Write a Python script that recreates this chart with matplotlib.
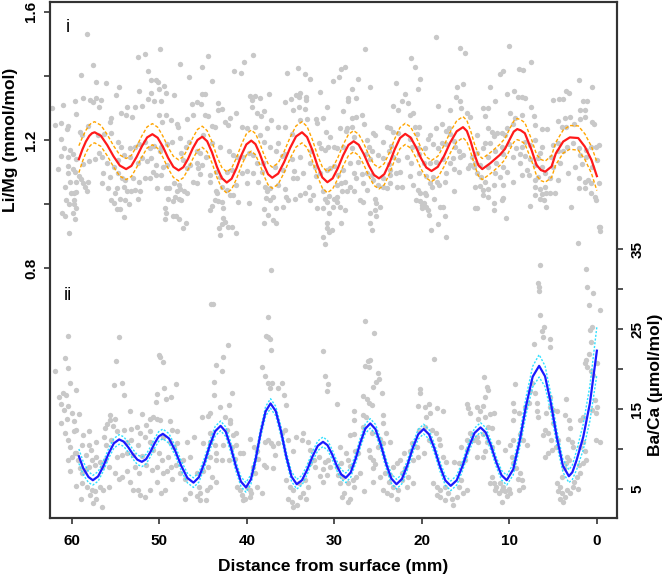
import matplotlib
matplotlib.use("Agg")
import matplotlib.pyplot as plt

plt.rcParams['font.family'] = ['Liberation Sans', 'DejaVu Sans']

# ---------------- data ----------------
# Li/Mg scatter (distance mm, Li/Mg mmol/mol)
li_a = [(58.3,1.531),(57.6,1.433),(59.0,1.402),(52.4,1.458),(51.6,1.469),(49.9,1.485),(47.7,1.437),(46.6,1.398),
(51.3,1.416),(51.0,1.387),(50.4,1.387),(50.2,1.382),(57.2,1.382),(56.1,1.377),(54.6,1.365),(52.3,1.353),(50.1,1.358),
(49.5,1.369),(49.2,1.346),(48.3,1.341),(51.0,1.346),(51.3,1.328),(50.6,1.323),(49.8,1.323),(55.0,1.339),(59.7,1.323),
(58.7,1.331),(57.9,1.325),(57.3,1.332),(56.7,1.325),(57.6,1.320),(61.0,1.308),(56.9,1.302),(62.3,1.299),(59.5,1.281),
(53.7,1.302),(52.8,1.304),(52.0,1.306),(46.3,1.312),(54.4,1.283),(53.8,1.278),(53.1,1.271),(61.9,1.247),(61.3,1.252),
(60.5,1.244),(60.6,1.234),(55.5,1.268),(55.7,1.257),(50.1,1.278),(49.2,1.278),(48.7,1.262),(49.7,1.255),(48.0,1.250),
(47.9,1.240),(46.9,1.265),(46.2,1.278),(59.1,1.226),(58.9,1.216),(58.2,1.245),(57.0,1.216),(56.3,1.219),(55.5,1.221),
(54.7,1.195),(54.4,1.179),(53.4,1.174),(52.8,1.179),(52.3,1.187),(51.7,1.195),(51.1,1.174),(50.6,1.182),(49.8,1.179),
(49.9,1.167),(49.1,1.187),(48.6,1.195),(47.7,1.205),(47.0,1.179),(46.6,1.195),(61.2,1.202),(60.9,1.174),(60.2,1.169),
(60.5,1.148),(61.2,1.150),(59.9,1.156),(59.5,1.140),(58.7,1.125),(58.1,1.135),(57.4,1.141),(56.9,1.158),(56.6,1.148),
(56.0,1.127),(55.2,1.115),(54.7,1.137),(54.0,1.153),(53.4,1.148),(52.5,1.129),(52.0,1.143),(51.4,1.135),(51.0,1.143),
(50.4,1.121),(49.6,1.117),(49.1,1.123),(47.5,1.158),(47.3,1.137),(46.9,1.111),(46.5,1.122),(61.6,1.109),(60.5,1.120),
(59.9,1.110),(60.4,1.096),(59.6,1.099),(59.2,1.088),(59.0,1.077),(59.5,1.070),(58.7,1.065),(58.2,1.068),(58.5,1.054),
(56.4,1.096),(56.6,1.067),(55.7,1.085),(54.7,1.096),(54.3,1.080),(53.9,1.075),(53.0,1.080),(52.3,1.070),(51.7,1.080),
(50.7,1.101),(50.4,1.091),(51.1,1.080),(49.8,1.091),(49.2,1.049),(48.9,1.049),(48.3,1.067),(47.8,1.059),(47.7,1.047),
(47.2,1.039),(46.8,1.035),(46.2,1.070),(60.8,1.054),(60.2,1.070),(59.8,1.033),(60.1,1.035),(59.5,1.036),(58.3,1.039),
(55.9,1.049),(54.9,1.049),(55.1,1.033),(54.1,1.054),(53.7,1.039),(53.2,1.039),(52.8,1.044),(52.2,1.042),(50.3,1.049),
(48.0,1.039),(48.2,1.023),(55.5,1.012),(55.2,1.004),(54.5,1.015),(53.9,1.012),(53.5,1.000),(52.5,1.015),(49.0,1.015),
(48.4,1.010),(47.8,1.017),(47.5,1.012),(60.7,1.012),(60.3,1.000),(59.8,1.012),(59.8,1.000),(59.5,0.986),(59.9,0.973),
(61.1,0.973),(60.8,0.962),(59.7,0.952),(54.9,0.983),(54.5,0.983),(54.1,0.960),(49.4,0.986),(49.2,0.971),(48.5,0.962),
(48.1,0.962),(47.8,0.952),(49.4,0.952),(47.3,0.924),(47.0,0.942),(60.3,0.908)]

li_b = [(44.4,1.462),(39.3,1.466),(40.3,1.443),(45.1,1.429),(41.5,1.417),(40.7,1.408),(44.0,1.385),(35.4,1.410),
(34.2,1.425),(33.4,1.406),(32.8,1.391),(30.2,1.384),(45.1,1.344),(44.8,1.344),(45.7,1.320),(45.2,1.312),(43.3,1.315),
(43.3,1.294),(42.9,1.296),(39.7,1.336),(39.1,1.337),(39.4,1.325),(38.5,1.332),(39.4,1.304),(38.9,1.283),(38.4,1.275),
(38.1,1.289),(37.5,1.344),(35.6,1.320),(35.0,1.328),(34.4,1.341),(33.9,1.346),(34.1,1.333),(33.2,1.335),(34.7,1.294),
(34.1,1.304),(33.4,1.296),(33.2,1.325),(31.7,1.349),(30.9,1.304),(44.8,1.278),(44.4,1.275),(41.9,1.268),(41.2,1.283),
(42.5,1.257),(42.2,1.247),(40.6,1.240),(40.0,1.236),(39.1,1.242),(37.7,1.236),(36.4,1.242),(35.6,1.240),(37.2,1.262),
(38.5,1.216),(38.1,1.195),(37.4,1.179),(36.7,1.164),(36.0,1.150),(34.9,1.219),(33.9,1.262),(33.1,1.265),(32.1,1.265),
(32.0,1.252),(31.3,1.268),(31.0,1.226),(30.5,1.210),(30.0,1.179),(30.7,1.179),(44.0,1.244),(43.7,1.242),(45.0,1.216),
(44.0,1.190),(43.1,1.179),(42.0,1.164),(41.6,1.153),(41.1,1.148),(40.4,1.148),(39.8,1.158),(39.3,1.153),(38.9,1.127),
(38.2,1.129),(36.4,1.190),(35.7,1.156),(34.9,1.140),(33.9,1.146),(32.7,1.164),(31.8,1.190),(31.5,1.174),(31.1,1.169),
(45.7,1.167),(45.4,1.158),(44.7,1.148),(45.7,1.127),(45.6,1.111),(45.1,1.122),(45.4,1.094),(45.7,1.067),(44.2,1.091),
(43.5,1.101),(43.1,1.085),(42.3,1.101),(41.7,1.106),(40.6,1.096),(40.0,1.104),(39.3,1.096),(38.3,1.101),(36.8,1.115),
(35.9,1.106),(34.6,1.104),(34.3,1.080),(33.6,1.096),(32.8,1.127),(32.2,1.117),(32.1,1.087),(31.7,1.096),(30.8,1.106),
(30.5,1.111),(30.0,1.119),(44.2,1.070),(43.5,1.039),(43.4,1.035),(42.9,1.052),(42.3,1.044),(41.9,1.028),(41.6,1.028),
(41.2,1.059),(40.0,1.067),(38.7,1.070),(37.9,1.052),(37.7,1.042),(37.4,1.049),(37.0,1.023),(36.5,1.059),(35.6,1.046),
(34.7,1.080),(35.5,1.023),(32.9,1.052),(32.4,1.028),(31.3,1.039),(31.1,1.015),(30.6,1.025),(30.1,1.015),(44.0,0.994),
(43.7,1.012),(43.3,1.010),(42.9,1.007),(42.7,0.986),(41.0,1.007),(39.8,1.002),(37.8,1.018),(37.4,1.012),(38.1,0.983),
(37.6,0.966),(36.7,0.986),(35.9,0.990),(35.3,1.012),(34.5,1.015),(33.9,1.028),(33.4,1.033),(32.8,1.012),(32.0,0.986),
(31.3,0.986),(30.9,1.007),(30.6,0.971),(30.2,0.992),(44.2,0.981),(42.7,0.955),(42.5,0.945),(42.9,0.937),(42.2,0.929),
(41.7,0.929),(43.2,0.924),(43.1,0.903),(41.2,0.908),(38.1,0.942),(37.0,0.950),(36.7,0.940),(31.3,0.896),(31.1,0.875),
(30.9,0.940),(30.8,0.924),(30.6,0.914),(30.3,0.919)]

li_c = [(18.4,1.521),(26.5,1.484),(15.7,1.486),(15.1,1.471),(21.2,1.455),(20.8,1.429),(28.8,1.427),(29.2,1.421),
(20.2,1.391),(23.0,1.377),(29.5,1.396),(27.3,1.390),(25.9,1.364),(20.5,1.358),(28.0,1.358),(28.4,1.330),(27.5,1.330),
(28.5,1.323),(21.9,1.343),(22.3,1.323),(23.3,1.307),(21.6,1.315),(22.7,1.294),(18.2,1.307),(21.0,1.283),(21.4,1.278),
(16.0,1.365),(15.3,1.375),(16.1,1.333),(15.6,1.323),(16.8,1.294),(15.5,1.299),(14.9,1.283),(14.5,1.273),(29.0,1.292),
(26.9,1.278),(28.0,1.268),(27.5,1.273),(26.6,1.250),(28.0,1.242),(29.4,1.236),(28.6,1.236),(28.7,1.229),(27.8,1.210),
(25.6,1.223),(25.4,1.216),(24.0,1.242),(23.7,1.236),(23.3,1.226),(22.7,1.221),(20.8,1.240),(20.3,1.240),(20.6,1.219),
(19.1,1.216),(18.4,1.236),(17.7,1.250),(17.2,1.229),(16.9,1.236),(16.8,1.219),(29.7,1.174),(29.0,1.179),(28.0,1.174),
(26.3,1.200),(26.1,1.179),(25.7,1.164),(24.5,1.195),(23.5,1.181),(23.8,1.167),(21.4,1.202),(21.1,1.179),(20.5,1.174),
(19.7,1.174),(19.3,1.202),(18.7,1.187),(18.2,1.174),(17.7,1.190),(17.2,1.187),(16.3,1.198),(16.2,1.179),(15.8,1.164),
(15.3,1.153),(14.3,1.148),(28.2,1.127),(27.3,1.132),(26.4,1.156),(25.9,1.140),(25.0,1.153),(24.4,1.143),(23.8,1.125),
(23.3,1.148),(22.7,1.137),(21.7,1.148),(21.2,1.127),(20.3,1.156),(19.8,1.127),(19.1,1.127),(18.4,1.132),(17.6,1.140),
(16.8,1.127),(16.4,1.143),(15.7,1.148),(14.5,1.122),(14.1,1.115),(29.6,1.091),(29.0,1.106),(27.8,1.096),(27.5,1.080),
(26.9,1.094),(26.3,1.098),(25.7,1.091),(25.6,1.075),(24.4,1.080),(23.6,1.106),(23.7,1.091),(23.0,1.096),(22.5,1.101),
(21.4,1.087),(20.3,1.098),(19.5,1.087),(18.7,1.085),(18.3,1.070),(17.2,1.096),(16.3,1.108),(15.8,1.101),(14.7,1.111),
(29.7,1.059),(29.2,1.065),(28.8,1.070),(28.2,1.054),(27.8,1.039),(29.1,1.039),(28.6,1.042),(26.7,1.065),(26.3,1.044),
(25.0,1.059),(24.4,1.054),(24.0,1.049),(23.7,1.067),(22.9,1.054),(22.3,1.052),(21.0,1.059),(20.5,1.044),(20.2,1.035),
(19.1,1.065),(18.9,1.054),(19.7,1.035),(18.1,1.059),(17.4,1.070),(16.3,1.042),(29.7,1.023),(29.7,1.007),(29.4,0.990),
(28.8,0.981),(27.1,1.012),(26.7,1.007),(25.4,1.015),(25.2,1.002),(24.8,0.992),(25.4,0.981),(25.9,0.971),(25.2,0.962),
(20.7,1.012),(20.2,1.009),(20.0,0.997),(19.8,1.002),(19.5,0.990),(19.3,0.981),(19.2,0.966),(20.0,0.986),(19.5,1.028),
(18.6,1.015),(17.9,0.992),(17.6,0.992),(17.4,0.962),(25.9,0.940),(29.2,0.940),(25.7,0.919),(19.0,0.919),(18.2,0.937),
(17.2,0.896),(13.9,0.986)]

li_d = [(10.0,1.495),(7.5,1.443),(10.7,1.417),(11.1,1.406),(8.9,1.421),(8.4,1.419),(12.2,1.365),(9.5,1.354),
(10.3,1.343),(9.0,1.335),(8.6,1.333),(8.2,1.330),(11.7,1.323),(12.4,1.301),(13.0,1.301),(7.5,1.304),(5.0,1.325),
(4.3,1.327),(3.9,1.327),(3.5,1.354),(3.2,1.346),(2.0,1.388),(0.6,1.365),(1.6,1.323),(1.1,1.323),(1.4,1.294),
(1.9,1.294),(12.8,1.275),(9.9,1.283),(9.4,1.268),(8.6,1.278),(7.2,1.275),(9.6,1.250),(7.1,1.247),(6.3,1.233),
(5.7,1.233),(12.5,1.236),(12.0,1.226),(11.4,1.223),(11.8,1.212),(10.9,1.223),(10.5,1.216),(10.3,1.236),(4.4,1.260),
(3.7,1.268),(3.1,1.271),(2.6,1.250),(1.9,1.266),(1.4,1.271),(0.6,1.257),(0.3,1.250),(4.0,1.242),(3.5,1.242),
(13.7,1.216),(12.8,1.190),(12.2,1.192),(13.0,1.174),(11.7,1.164),(10.9,1.179),(10.0,1.187),(9.2,1.174),(8.6,1.179),
(8.2,1.195),(7.7,1.184),(7.1,1.200),(6.3,1.179),(6.5,1.158),(5.0,1.184),(4.4,1.190),(3.4,1.179),(2.7,1.190),
(2.1,1.174),(1.2,1.169),(0.7,1.179),(0.1,1.179),(-0.2,1.184),(13.7,1.158),(12.4,1.148),(10.7,1.156),(9.6,1.148),
(8.8,1.156),(8.2,1.150),(7.7,1.140),(6.7,1.143),(5.2,1.148),(4.5,1.164),(3.9,1.164),(1.9,1.153),(1.2,1.148),
(0.0,1.137),(13.9,1.127),(13.4,1.122),(12.4,1.117),(11.5,1.127),(10.7,1.117),(8.8,1.127),(8.0,1.106),(7.1,1.122),
(6.3,1.117),(5.0,1.117),(4.2,1.127),(2.5,1.117),(1.7,1.125),(0.6,1.117),(13.7,1.096),(13.2,1.085),(12.8,1.070),
(11.7,1.096),(11.1,1.085),(10.3,1.101),(9.6,1.070),(8.6,1.091),(7.8,1.091),(7.1,1.075),(6.7,1.085),(5.9,1.096),
(5.4,1.080),(4.5,1.075),(3.3,1.098),(2.1,1.080),(1.4,1.070),(1.0,1.075),(0.7,1.065),(-0.2,1.065),(13.9,1.054),
(13.4,1.056),(13.0,1.044),(12.4,1.046),(11.8,1.059),(10.7,1.059),(7.1,1.054),(6.5,1.046),(5.9,1.054),(2.1,1.049),
(1.4,1.049),(0.7,1.035),(0.2,1.023),(0.1,1.012),(13.7,0.986),(13.0,1.028),(12.4,1.023),(11.8,1.004),(11.8,0.981),
(10.7,1.018),(10.9,1.012),(10.4,0.955),(7.6,0.994),(7.1,1.028),(6.3,1.031),(5.8,1.033),(5.4,1.035),(4.8,1.035),
(6.5,1.015),(6.1,1.012),(5.8,0.990),(3.0,0.992),(-0.2,0.929),(-0.4,0.929),(-0.4,0.917),(2.2,0.879)]

# Ba/Ca scatter (distance mm, Ba/Ca umol/mol)
ba_a = [(60.5,24.1),(54.6,24.0),(61.9,19.7),(60.8,21.4),(60.4,20.1),(60.2,18.3),(55.0,21.0),(50.1,21.8),(49.9,21.5),
(49.6,20.9),(55.2,18.0),(54.3,18.3),(54.1,16.8),(48.1,18.1),(59.5,17.4),(61.5,16.5),(61.0,17.0),(60.7,16.8),
(61.2,15.6),(60.4,15.4),(60.9,14.9),(60.0,14.5),(59.2,14.4),(61.3,13.2),(60.6,13.7),(59.8,13.5),(55.7,14.25),
(55.7,13.6),(55.1,13.8),(53.4,14.7),(52.0,14.4),(51.1,13.7),(50.7,14.0),(50.3,13.7),(49.9,13.6),(49.5,17.6),
(49.2,16.3),(48.7,16.5),(50.3,16.9),(50.4,15.9),(48.8,13.5),(48.6,12.4),(48.0,12.3),(60.8,12.0),(59.8,12.2),
(59.5,12.4),(58.7,11.8),(58.1,12.2),(56.0,13.1),(56.2,12.6),(55.3,12.9),(54.9,12.3),(54.1,12.4),(53.2,12.5),
(52.6,12.8),(52.2,12.0),(51.5,13.0),(51.1,12.2),(60.4,11.1),(60.2,10.3),(59.6,9.5),(58.8,10.5),(58.0,10.5),
(57.8,9.9),(57.2,10.9),(56.3,11.5),(56.1,10.5),(55.5,11.1),(53.7,10.9),(53.2,11.1),(52.4,10.5),(51.6,11.5),
(51.1,10.9),(49.6,11.5),(48.8,10.9),(48.3,10.3),(48.0,10.7),(46.9,10.9),(46.1,11.5),(60.5,8.6),(60.0,9.0),
(59.5,9.5),(59.3,8.6),(58.4,9.3),(57.7,8.6),(57.2,9.0),(56.8,8.4),(56.2,8.6),(54.9,9.0),(54.3,9.3),(53.7,9.5),
(53.0,9.3),(52.0,9.1),(50.7,9.9),(50.1,9.5),(49.7,8.6),(49.0,9.0),(48.7,7.8),(48.1,8.0),(47.3,8.6),(46.5,9.0),
(60.2,7.2),(59.1,7.6),(58.9,7.0),(58.5,7.4),(58.1,7.8),(57.4,8.0),(56.6,7.8),(55.8,7.8),(55.1,7.0),(54.6,6.3),
(54.3,6.5),(53.7,7.3),(52.8,7.8),(52.3,7.0),(51.5,8.0),(50.9,7.4),(50.3,7.8),(49.6,7.0),(49.1,7.3),(48.6,6.3),
(47.6,7.0),(47.1,6.3),(59.5,5.4),(58.9,5.8),(58.3,5.3),(57.7,4.9),(57.4,4.7),(56.8,5.3),(56.4,4.9),(55.8,5.2),
(57.9,4.25),(57.2,3.8),(56.6,2.8),(57.6,3.2),(59.0,3.7),(53.4,5.9),(53.0,4.9),(52.4,4.9),(52.2,4.25),(51.7,4.0),
(51.1,4.9),(50.3,5.9),(49.8,4.5),(49.4,4.9),(47.1,3.8),(46.5,4.5)]

ba_b = [(44.1,28.1),(43.9,28.1),(37.6,26.5),(37.8,24.1),(37.6,24.0),(37.4,23.8),(37.2,22.4),(42.2,23.0),(42.7,21.5),
(43.5,20.5),(42.9,19.7),(38.3,20.2),(37.9,19.1),(31.3,22.2),(31.1,19.1),(30.7,18.1),(30.9,17.2),(43.8,18.4),
(43.8,16.8),(41.7,17.0),(37.6,18.2),(37.1,18.2),(37.4,17.6),(36.4,17.6),(36.0,18.3),(35.8,16.7),(35.5,15.5),
(44.2,14.5),(44.4,14.1),(45.1,14.05),(43.1,15.3),(42.1,15.5),(45.0,10.7),(44.2,12.0),(44.2,10.9),(43.7,10.5),
(43.5,9.5),(42.7,10.5),(42.3,12.4),(41.9,13.6),(41.9,13.2),(42.5,14.05),(41.6,11.75),(41.2,12.0),(41.7,10.3),
(41.2,10.5),(40.8,9.5),(41.4,8.8),(42.1,8.6),(42.8,8.6),(44.2,9.0),(44.4,7.8),(45.0,7.2),(44.0,6.5),(43.5,5.9),
(44.2,5.3),(44.6,4.9),(45.5,5.3),(45.4,4.5),(45.4,3.6),(45.7,4.1),(44.7,3.6),(40.4,9.5),(39.7,11.3),(39.2,10.3),
(38.9,9.7),(38.7,8.8),(39.3,7.8),(39.1,7.0),(37.9,10.9),(37.6,11.1),(37.2,10.8),(37.0,10.4),(36.4,10.8),(36.8,9.3),
(36.0,12.0),(35.6,12.4),(35.3,11.1),(34.7,9.7),(34.4,11.5),(33.7,11.1),(33.6,12.0),(33.0,10.9),(32.3,8.6),
(32.8,8.2),(32.8,9.9),(31.8,9.0),(32.2,7.8),(31.1,8.4),(30.7,8.6),(30.5,7.8),(31.3,7.5),(30.9,6.75),(31.7,6.6),
(31.3,5.9),(41.1,5.2),(40.8,4.9),(40.0,5.3),(39.7,4.9),(40.6,4.25),(40.2,3.8),(39.7,4.05),(40.4,3.6),(39.5,4.5),
(35.5,6.1),(35.1,5.3),(34.7,4.9),(34.1,5.7),(33.4,6.1),(33.0,5.3),(33.6,4.5),(35.3,3.8),(34.9,3.4),(34.3,3.0),
(33.9,4.05),(33.2,3.7),(34.7,2.8),(37.0,7.6),(37.8,7.8),(38.1,8.0),(45.7,6.96),(43.5,8.6),(38.9,5.3),(38.3,4.5),
(37.2,32.4)]

ba_c = [(26.5,26.0),(25.5,24.5),(18.6,21.25),(26.5,20.4),(26.2,21.05),(25.9,21.1),(26.0,20.3),(25.0,19.5),(24.9,18.8),
(25.2,18.4),(25.6,17.8),(24.6,17.0),(26.7,16.6),(26.3,16.2),(26.0,15.7),(25.7,15.5),(20.2,17.5),(20.2,17.0),
(20.4,15.4),(19.6,15.3),(19.2,15.6),(19.1,14.5),(19.5,14.05),(18.3,15.1),(17.6,14.8),(14.9,15.6),(14.7,15.1),
(14.5,14.5),(29.7,15.6),(27.8,14.7),(27.8,13.6),(26.7,14.25),(26.4,14.05),(24.4,14.25),(24.5,13.2),(28.2,11.75),
(27.8,11.9),(26.7,12.8),(25.7,12.0),(26.0,9.9),(25.9,9.0),(25.6,8.6),(25.4,8.1),(25.6,7.6),(25.0,10.3),(24.8,11.3),
(24.5,10.7),(24.1,12.0),(23.6,10.9),(29.4,10.3),(28.7,9.5),(28.4,8.6),(28.2,7.9),(27.7,9.7),(27.3,9.5),(29.2,8.2),
(29.7,7.8),(29.6,6.75),(29.0,6.5),(28.4,5.7),(27.9,6.1),(27.5,6.5),(27.1,7.0),(27.8,5.3),(29.4,5.7),(28.9,4.5),
(28.2,3.8),(28.4,3.4),(29.1,4.0),(26.6,4.7),(25.6,5.9),(24.8,6.5),(24.2,7.0),(23.6,6.75),(23.3,7.8),(22.9,8.2),
(22.5,8.6),(21.9,7.6),(22.1,9.5),(21.4,9.7),(21.0,8.6),(20.5,9.0),(20.6,10.3),(21.1,10.8),(20.3,12.4),(19.6,12.8),
(18.9,12.4),(18.4,12.0),(18.1,11.3),(17.9,10.5),(19.2,11.1),(19.8,9.5),(17.6,9.0),(17.2,8.4),(16.3,8.4),(15.8,8.3),
(15.1,8.6),(14.8,9.9),(14.5,12.0),(14.1,11.1),(14.9,11.1),(15.5,10.3),(23.8,5.9),(23.3,5.3),(24.4,4.9),(24.0,4.5),
(23.5,4.25),(22.9,3.8),(22.7,4.9),(22.3,6.1),(21.6,6.5),(21.7,5.3),(21.0,5.7),(22.3,7.0),(18.7,5.7),(18.3,5.3),
(17.9,4.9),(17.4,5.3),(17.0,4.5),(16.6,3.8),(16.4,3.0),(17.4,3.6),(17.9,4.0),(15.8,5.3),(15.5,6.1),(14.9,4.9),
(15.3,4.5),(16.0,4.05),(18.3,4.25)]

ba_d = [(6.5,33.0),(6.7,30.7),(6.6,30.3),(6.6,29.7),(1.3,32.5),(1.1,30.3),(0.5,29.5),(0.9,28.0),(-0.3,27.4),(6.5,26.8),
(6.1,25.3),(6.3,24.7),(6.2,24.0),(7.2,23.1),(5.4,23.7),(5.4,22.8),(0.6,25.3),(0.8,24.9),(0.7,23.4),(0.9,21.9),
(1.2,21.1),(1.4,20.7),(1.1,20.2),(0.7,19.8),(0.4,19.2),(0.0,20.7),(12.9,19.0),(12.6,17.8),(12.5,17.4),(12.8,16.5),
(9.4,18.1),(9.6,15.7),(9.5,14.7),(9.6,13.6),(8.9,14.5),(8.2,15.3),(7.4,18.2),(7.1,17.0),(6.9,15.7),(6.9,14.7),
(6.7,14.05),(7.6,17.2),(7.8,15.7),(5.4,16.5),(5.4,15.3),(5.8,14.5),(5.0,14.9),(4.6,14.8),(5.0,13.2),(3.5,16.2),
(3.7,14.25),(3.2,13.6),(3.1,12.6),(1.9,13.6),(1.6,14.05),(0.2,16.1),(0.1,14.5),(0.0,15.3),(0.6,14.9),(0.1,11.1),
(-0.35,10.9),(13.7,15.3),(13.4,14.7),(13.0,15.4),(13.6,13.8),(12.8,14.05),(12.2,14.4),(11.8,14.5),(12.4,12.8),
(12.0,12.6),(13.0,11.9),(13.7,11.5),(13.6,10.9),(12.6,10.9),(12.0,10.3),(12.8,9.7),(13.0,9.0),(13.7,9.0),
(11.3,10.9),(10.5,9.9),(9.9,10.5),(9.6,11.1),(8.8,11.9),(8.4,11.1),(8.0,10.5),(6.2,11.75),(5.9,12.4),(5.6,12.0),
(5.2,11.1),(5.6,9.5),(5.9,9.0),(5.1,9.9),(4.7,10.3),(4.4,11.1),(3.3,11.3),(2.9,10.9),(2.7,10.3),(1.9,10.3),
(1.6,10.9),(1.4,9.7),(1.2,8.6),(1.6,8.2),(2.1,8.0),(3.2,8.6),(3.5,8.2),(3.8,7.6),(3.4,9.0),(9.7,9.0),(9.6,8.2),
(9.3,7.6),(8.8,7.0),(9.0,6.3),(8.6,6.1),(8.5,5.3),(8.9,4.9),(12.0,6.5),(12.2,5.7),(11.8,5.8),(11.6,4.9),(11.5,5.3),
(11.1,5.7),(10.9,4.9),(11.2,4.5),(10.7,5.3),(10.5,4.7),(10.3,4.1),(10.1,4.95),(10.9,3.4),(9.9,4.5),(4.6,5.7),
(4.2,5.3),(4.4,4.8),(4.0,4.5),(4.2,3.8),(3.9,3.4),(3.6,4.05),(3.4,4.9),(3.1,4.5),(2.7,5.3),(2.2,4.95),(2.6,5.9),
(2.3,6.5),(1.9,7.0),(4.0,6.5)]

# Smoothed Li/Mg fit and its confidence half-width
li_fit_x = [59.2,58.8,58.4,58.0,57.7,57.4,56.68,55.96,55.24,54.52,53.8,53.2,52.6,52.0,51.4,50.8,50.2,49.6,49.0,48.4,
47.8,47.26,46.72,46.18,45.64,45.1,44.54,43.98,43.42,42.86,42.3,41.74,41.18,40.62,40.06,39.5,39.02,38.54,38.06,37.58,
37.1,36.42,35.74,35.06,34.38,33.7,33.12,32.54,31.96,31.38,30.8,30.2,29.6,29.0,28.4,27.8,27.22,26.64,26.06,25.48,
24.9,24.3,23.7,23.1,22.5,21.9,21.3,20.7,20.1,19.5,18.9,18.18,17.46,16.74,16.02,15.3,14.86,14.42,13.98,13.54,
13.1,12.2,11.1,10.5,9.9,9.5,9.1,8.7,8.23,7.47,6.9,6.4,5.9,5.18,4.69,3.85,3.09,2.13,1.37,0.61,0.0]
li_fit_y = [1.140,1.170,1.195,1.213,1.221,1.224,1.213,1.184,1.149,1.120,1.109,1.119,1.147,1.180,1.208,1.218,1.207,1.179,1.144,1.116,
1.105,1.115,1.141,1.174,1.200,1.210,1.196,1.161,1.116,1.081,1.067,1.079,1.112,1.153,1.186,1.198,1.187,1.158,1.122,1.093,
1.082,1.095,1.131,1.175,1.211,1.224,1.209,1.170,1.122,1.083,1.068,1.080,1.112,1.152,1.184,1.196,1.185,1.156,1.120,1.091,
1.080,1.093,1.128,1.171,1.206,1.219,1.208,1.179,1.143,1.114,1.103,1.116,1.150,1.193,1.227,1.240,1.228,1.195,1.154,1.121,
1.109,1.127,1.153,1.172,1.205,1.226,1.234,1.230,1.221,1.169,1.122,1.106,1.101,1.117,1.158,1.195,1.208,1.206,1.179,1.137,1.087]
li_ci = [0.042,0.038,0.035,0.034,0.033] + [0.033] * 88 + [0.034,0.035,0.036,0.037,0.038,0.040,0.042,0.045]

# Smoothed Ba/Ca fit and its confidence half-width
ba_fit_x = [59.2,58.7,58.1,57.6,57.0,56.4,55.8,55.2,54.6,54.08,53.56,53.04,52.52,52.0,51.52,51.04,50.56,50.08,49.6,
48.9,48.2,47.5,46.8,46.1,45.48,44.86,44.24,43.62,43.0,42.42,41.84,41.26,40.68,40.1,39.54,38.98,38.42,37.86,37.3,
36.7,36.1,35.5,34.9,34.3,33.7,33.1,32.5,31.9,31.3,30.78,30.26,29.74,29.22,28.7,28.14,27.58,27.02,26.46,25.9,
25.3,24.7,24.1,23.5,22.9,22.28,21.66,21.04,20.42,19.8,19.18,18.56,17.94,17.32,16.7,16.02,15.34,14.66,13.98,13.3,
12.7,12.1,11.5,10.9,10.3,9.56,8.82,8.08,7.34,6.6,5.92,5.24,4.56,3.88,3.2,2.8,2.32,1.56,0.8,0.0]
ba_fit_y = [9.1,7.6,6.5,6.1,6.58,7.86,9.44,10.72,11.2,10.93,10.23,9.37,8.67,8.4,8.73,9.61,10.69,11.57,11.9,
11.32,9.80,7.90,6.38,5.8,6.47,8.25,10.45,12.23,12.9,12.17,10.24,7.86,5.93,5.2,6.20,8.82,12.08,14.70,15.7,
14.74,12.22,9.08,6.56,5.6,6.10,7.43,9.07,10.40,10.9,10.47,9.35,7.95,6.83,6.4,7.05,8.75,10.85,12.55,13.2,
12.48,10.58,8.22,6.32,5.6,6.26,7.98,10.12,11.84,12.5,11.83,10.05,7.85,6.07,5.4,6.09,7.92,10.18,12.01,12.7,
12.07,10.42,8.38,6.73,6.1,7.46,11.03,15.47,19.04,20.4,19.09,15.64,11.36,7.91,6.6,7.1,8.6,11.5,15.7,22.3]
ba_ci = [0.9,0.8,0.7] + [0.6] * 81 + [0.7,0.9,1.1,1.3,1.4,1.3,1.1,0.9,0.8,0.8,0.9,1.2,1.6,2.2,3.0]

x_ticks = [60, 50, 40, 30, 20, 10, 0]
li_ticks = [0.8, 1.0, 1.2, 1.4, 1.6]
li_tick_labels = ["0.8", "", "1.2", "", "1.6"]
ba_ticks = [5, 10, 15, 20, 25, 30, 35]
ba_tick_labels = ["5", "", "15", "", "25", "", "35"]

# ---------------- drawing ----------------
W, H = 666, 579
fig = plt.figure(figsize=(W / 100, H / 100), dpi=100)
ax = fig.add_axes([50 / W, 61 / H, 567 / W, 516 / H])
ax2 = ax.twinx()

pt_color = "#c8c8c8"
spine_color = "#333333"

li_pts = li_a + li_b + li_c + li_d
ba_pts = ba_a + ba_b + ba_c + ba_d
ax.scatter([p[0] for p in li_pts], [p[1] for p in li_pts], s=15, color=pt_color, linewidths=0, zorder=1)
ax2.scatter([p[0] for p in ba_pts], [p[1] for p in ba_pts], s=15, color=pt_color, linewidths=0, zorder=1)

li_hi = [y + c for y, c in zip(li_fit_y, li_ci)]
li_lo = [y - c for y, c in zip(li_fit_y, li_ci)]
ax.plot(li_fit_x, li_hi, color="#ffa500", lw=1.0, ls=(0, (2.5, 1.5)), zorder=2)
ax.plot(li_fit_x, li_lo, color="#ffa500", lw=1.0, ls=(0, (2.5, 1.5)), zorder=2)
ax.plot(li_fit_x, li_fit_y, color="#ff1a1a", lw=1.6, zorder=3)

ba_hi = [y + c for y, c in zip(ba_fit_y, ba_ci)]
ba_lo = [y - c for y, c in zip(ba_fit_y, ba_ci)]
ax2.plot(ba_fit_x, ba_hi, color="#30e0ff", lw=1.0, ls=(0, (1.5, 1.2)), zorder=2)
ax2.plot(ba_fit_x, ba_lo, color="#30e0ff", lw=1.0, ls=(0, (1.5, 1.2)), zorder=2)
ax2.plot(ba_fit_x, ba_fit_y, color="#1a1aff", lw=1.6, zorder=3)

ax.set_xlim(62.5, -2.3)
ax.set_ylim(0.019, 1.631)
ax2.set_ylim(1.375, 65.9)

ax.set_xticks(x_ticks)
ax.set_xticklabels([str(t) for t in x_ticks], fontsize=11, fontweight="bold")
ax.set_yticks(li_ticks)
ax.set_yticklabels(li_tick_labels, fontsize=11, fontweight="bold", rotation=90, va="center")
ax2.set_yticks(ba_ticks)
ax2.set_yticklabels(ba_tick_labels, fontsize=11, fontweight="bold", rotation=90, va="center")

for a in (ax, ax2):
    for s in a.spines.values():
        s.set_color(spine_color)
        s.set_linewidth(1.5)
    a.tick_params(direction="out", length=4.5, width=1.2, color=spine_color, labelcolor="black")
ax.tick_params(axis="x", pad=7)
ax.tick_params(axis="y", pad=4)
ax2.tick_params(axis="y", pad=5)

ax.set_xlabel("Distance from surface (mm)", fontsize=12.5, fontweight="bold")
ax.xaxis.set_label_coords(0.5, -0.079)
ax.set_ylabel("Li/Mg (mmol/mol)", fontsize=12.5, fontweight="bold")
ax.yaxis.set_label_coords(-0.057, 0.733)
ax2.set_ylabel("Ba/Ca (\u00b5mol/mol)", fontsize=12.5, fontweight="bold", rotation=90)
ax2.yaxis.set_label_coords(1.054, 0.258)

ax.text(0.032, 0.968, "i", transform=ax.transAxes, fontsize=13, ha="center", va="top")
ax.text(0.032, 0.448, "ii", transform=ax.transAxes, fontsize=13, ha="center", va="top")

fig.savefig("out.png", dpi=100, facecolor="white")
